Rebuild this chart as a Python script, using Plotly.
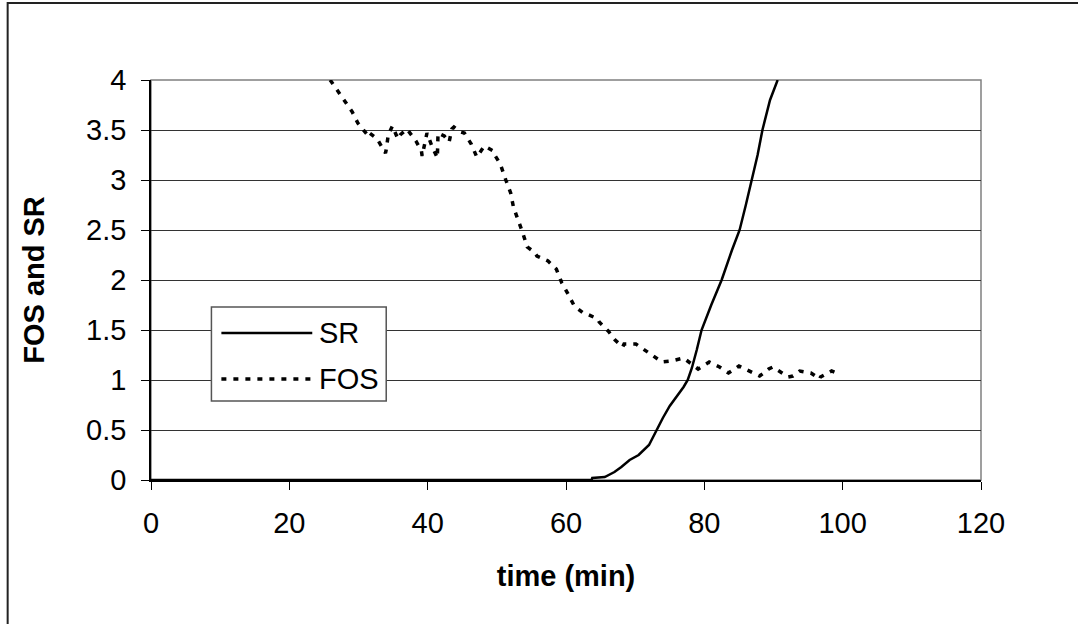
import plotly.graph_objects as go

# ---- data ----
sr_time = [0, 63.7, 63.8, 65.6, 67.0, 68.0, 69.2, 70.5, 72.0, 73.1, 74.0, 75.0, 76.0, 77.0, 77.6,
           78.2, 78.9, 79.6, 81.0, 82.5, 84.0, 85.1, 86.0, 86.9, 87.7, 88.4, 89.5, 90.6]
sr_vals = [0, 0, 0.02, 0.03, 0.08, 0.13, 0.2, 0.25, 0.35, 0.5, 0.62, 0.74, 0.83, 0.93, 1.0,
           1.12, 1.3, 1.5, 1.75, 2.0, 2.3, 2.5, 2.75, 3.0, 3.25, 3.5, 3.8, 4.0]

fos_time = [25.9, 27.1, 28.0, 29.1, 29.9, 31.3, 31.4, 32.7, 33.9, 34.0, 34.3, 34.9,
            35.7, 36.0, 37.0, 38.3, 39.1, 39.2, 39.9, 40.6, 41.4, 41.5, 42.4, 43.1,
            43.5, 43.8, 44.8, 45.3, 46.3, 47.1, 48.2, 49.5, 49.6, 50.5, 51.3, 52.0,
            52.4, 53.1, 53.7, 54.4, 55.4, 55.8, 57.4, 58.6, 58.8, 59.4, 60.3, 61.2,
            62.5, 63.0, 64.6, 64.8, 66.1, 67.1, 68.2, 68.4, 70.1, 72.3, 73.9, 75.2,
            77.0, 79.1, 80.4, 80.7, 82.2, 83.5, 85.0, 86.8, 88.0, 88.6, 89.3, 89.9,
            91.2, 92.1, 92.8, 93.8, 95.4, 95.8, 96.7, 96.8, 98.4, 99.1]
fos_vals = [4.0, 3.88, 3.78, 3.68, 3.57, 3.45, 3.48, 3.41, 3.27, 3.3, 3.45, 3.54,
            3.41, 3.45, 3.51, 3.39, 3.29, 3.24, 3.47, 3.34, 3.22, 3.47, 3.44, 3.38,
            3.51, 3.53, 3.48, 3.47, 3.36, 3.23, 3.34, 3.29, 3.26, 3.16, 3.0, 2.87,
            2.73, 2.6, 2.48, 2.33, 2.28, 2.24, 2.19, 2.11, 2.07, 1.97, 1.86, 1.74,
            1.67, 1.66, 1.61, 1.58, 1.49, 1.4, 1.33, 1.36, 1.36, 1.26, 1.18, 1.19,
            1.22, 1.11, 1.17, 1.18, 1.13, 1.07, 1.14, 1.08, 1.04, 1.07, 1.11, 1.13,
            1.07, 1.03, 1.04, 1.09, 1.07, 1.05, 1.01, 1.03, 1.09, 1.07]

x_ticks = [0, 20, 40, 60, 80, 100, 120]
y_ticks = [0, 0.5, 1, 1.5, 2, 2.5, 3, 3.5, 4]
y_tick_text = ["0", "0.5", "1", "1.5", "2", "2.5", "3", "3.5", "4"]
legend_names = ["SR", "FOS"]

FONT = "Liberation Sans, Arial, sans-serif"
FS = 29
DOT = "5px,7px"

fig = go.Figure()
fig.add_trace(go.Scatter(x=sr_time, y=sr_vals, mode="lines", name=legend_names[0],
                         line=dict(color="black", width=2.5), showlegend=False))
fig.add_trace(go.Scatter(x=fos_time, y=fos_vals, mode="lines", name=legend_names[1],
                         line=dict(color="black", width=3.5, dash=DOT), showlegend=False))

# plot-area frame (gray)
fig.add_shape(type="rect", xref="paper", yref="paper", x0=0, y0=0, x1=1, y1=1,
              line=dict(color="#808080", width=1.5), layer="below")
# outer chart border
fig.add_shape(type="rect", xref="paper", yref="paper", x0=-0.1727, y0=-0.38, x1=1.13, y1=1.1925,
              line=dict(color="#222222", width=2))

# manual legend
fig.add_shape(type="rect", xref="paper", yref="paper", x0=0.0728, y0=0.1975, x1=0.2834, y1=0.4325,
              line=dict(color="#555555", width=1.5), fillcolor="white", layer="above")
fig.add_shape(type="line", xref="paper", yref="paper", x0=0.0848, x1=0.1943, y0=0.3675, y1=0.3675,
              line=dict(color="black", width=2.5))
fig.add_shape(type="line", xref="paper", yref="paper", x0=0.0848, x1=0.1943, y0=0.2525, y1=0.2525,
              line=dict(color="black", width=3.5, dash=DOT))
for name, yy in zip(legend_names, [0.3675, 0.2525]):
    fig.add_annotation(text=name, xref="paper", yref="paper", x=0.1995, y=yy,
                       xanchor="left", yanchor="middle", showarrow=False,
                       font=dict(family=FONT, size=FS, color="black"))

fig.update_layout(
    width=1078, height=624,
    margin=dict(l=150.5, r=96.5, t=80, b=144),
    paper_bgcolor="white", plot_bgcolor="white",
    font=dict(family=FONT, size=FS, color="black"),
    showlegend=False,
)
fig.update_xaxes(range=[0, 120], tickvals=x_ticks, ticks="outside", ticklen=8,
                 tickcolor="black", showline=True, linecolor="black", linewidth=1.5,
                 showgrid=False, zeroline=False, ticklabelstandoff=8,
                 title=dict(text="<b>time (min)</b>", standoff=28,
                            font=dict(family=FONT, size=FS)))
fig.update_yaxes(range=[0, 4], tickvals=y_ticks, ticktext=y_tick_text, ticks="outside",
                 ticklen=8, tickcolor="black", showline=True, linecolor="black", linewidth=1.5,
                 showgrid=True, gridcolor="#333333", gridwidth=1, zeroline=False,
                 ticklabelstandoff=9,
                 title=dict(text="<b>FOS and SR</b>", standoff=33,
                            font=dict(family=FONT, size=FS)))

fig.write_html("out.html")
